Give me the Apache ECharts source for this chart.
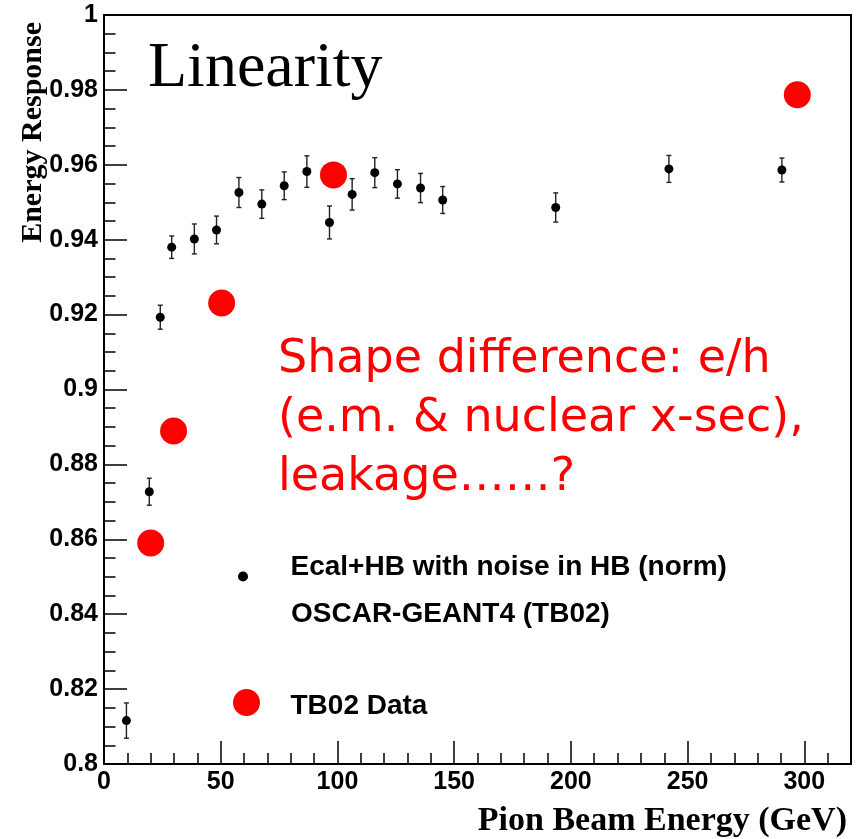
<!DOCTYPE html>
<html>
<head>
<meta charset="utf-8">
<script src="https://cdn.jsdelivr.net/npm/echarts@6/dist/echarts.min.js"></script>
<style>
  html, body { margin: 0; padding: 0; background: #fff; }
  #chart { width: 859px; height: 839px; }
</style>
</head>
<body>
<div id="chart"></div>
<script>
// Simulation: Ecal+HB with noise in HB (norm), OSCAR-GEANT4 (TB02)
const simEnergy = [9.6, 19.4, 24.1, 29.0, 38.7, 48.2, 57.8, 67.6, 77.2, 86.9, 96.6, 106.3, 116.0, 125.7, 135.6, 145.1, 193.5, 242.0, 290.4];
const simResponse = [0.8116, 0.8727, 0.9193, 0.9380, 0.9402, 0.9426, 0.9526, 0.9495, 0.9544, 0.9582, 0.9446, 0.9521, 0.9579, 0.9549, 0.9538, 0.9506, 0.9486, 0.9589, 0.9586];
const simError = [0.0047, 0.0036, 0.0032, 0.0030, 0.0040, 0.0037, 0.0040, 0.0038, 0.0037, 0.0042, 0.0044, 0.0042, 0.0040, 0.0038, 0.0039, 0.0036, 0.0039, 0.0036, 0.0032];
// TB02 test-beam data
const dataEnergy = [20.0, 29.8, 50.4, 98.3, 297.0];
const dataResponse = [0.8590, 0.8889, 0.9231, 0.9573, 0.9787];

const simName = 'Ecal+HB with noise in HB (norm)';
const simName2 = 'OSCAR-GEANT4 (TB02)';
const dataName = 'TB02 Data';
const plotTitle = 'Linearity';
const noteText = 'Shape difference: e/h\n(e.m. & nuclear x-sec),\nleakage……?';
const xTitle = 'Pion Beam Energy (GeV)';
const yTitle = 'Energy Response';

const sans = '"Liberation Sans", Arial, Helvetica, sans-serif';
const serif = '"Liberation Serif", "Times New Roman", serif';

const chart = echarts.init(document.getElementById('chart'), null, { renderer: 'canvas' });

const tickLabel = { color: '#000', fontFamily: sans, fontWeight: 'bold', fontSize: 25 };
const legendRich = {
  a: { fontFamily: sans, fontWeight: 'bold', fontSize: 28, lineHeight: 30, color: '#000' },
  s1: { fontSize: 1, lineHeight: 19 },
  s2: { fontSize: 1, lineHeight: 8 }
};

const option = {
  animation: false,
  backgroundColor: '#fff',
  grid: { left: 104, right: 8, top: 15, bottom: 75, show: true, borderColor: '#000', borderWidth: 2, backgroundColor: 'transparent', outerBoundsMode: 'none', containLabel: false },
  xAxis: [
    {
      type: 'value', min: 0, max: 320, interval: 50,
      axisLine: { show: true, onZero: false, lineStyle: { color: '#000', width: 2 } },
      axisTick: { show: true, inside: true, length: 23, lineStyle: { color: '#000', width: 1.5 } },
      axisLabel: Object.assign({ margin: 6, showMaxLabel: false, formatter: v => (v % 50 === 0 ? String(v) : '') }, tickLabel),
      splitLine: { show: false },
      name: xTitle, nameLocation: 'end', nameGap: -4, nameMoveOverlap: false,
      nameTextStyle: { fontFamily: serif, fontWeight: 'bold', fontSize: 34, color: '#000', align: 'right', verticalAlign: 'top', padding: [40, 0, 0, 0] }
    },
    {
      type: 'value', min: 0, max: 320, interval: 10, position: 'bottom',
      axisLine: { show: false },
      axisTick: { show: true, inside: true, length: 11, lineStyle: { color: '#000', width: 1.5 } },
      axisLabel: { show: false },
      splitLine: { show: false }
    }
  ],
  yAxis: {
    type: 'value', min: 0.8, max: 1, interval: 0.02,
    axisLine: { show: true, onZero: false, lineStyle: { color: '#000', width: 2 } },
    axisTick: { show: true, inside: true, length: 23, lineStyle: { color: '#000', width: 1.5 } },
    minorTick: { show: true, splitNumber: 4, length: 11.5, lineStyle: { color: '#000', width: 1.5 } },
    axisLabel: Object.assign({ margin: 6 }, tickLabel),
    splitLine: { show: false },
    name: yTitle, nameLocation: 'end', nameRotate: 90, nameGap: -7, nameMoveOverlap: false,
    nameTextStyle: { fontFamily: serif, fontWeight: 'bold', fontSize: 30, color: '#000', align: 'right', verticalAlign: 'bottom', padding: [0, 0, 56, 0] }
  },
  legend: [
    {
      data: [simName], orient: 'vertical', left: 238, top: 553, padding: 0,
      itemWidth: 85, itemHeight: 10, selectedMode: false,
      formatter: n => '{a|' + n + '}\n{s1| }',
      textStyle: { rich: legendRich }
    },
    {
      data: [dataName], orient: 'vertical', left: 233, top: 687, padding: 0,
      itemWidth: 78, itemHeight: 27, selectedMode: false,
      formatter: n => '{s2| }\n{a|' + n + '}',
      textStyle: { rich: legendRich }
    }
  ],
  series: [
    {
      type: 'custom', name: 'errors', xAxisIndex: 0, yAxisIndex: 0,
      data: simEnergy.map((e, i) => [e, simResponse[i], simError[i]]),
      encode: { x: 0, y: 1 },
      renderItem: function (params, api) {
        const x = api.value(0), y = api.value(1), err = api.value(2);
        const top = api.coord([x, y + err]);
        const bot = api.coord([x, y - err]);
        const cw = 2.5;
        const st = { stroke: '#222', lineWidth: 1.4 };
        return {
          type: 'group',
          children: [
            { type: 'line', shape: { x1: top[0], y1: top[1], x2: bot[0], y2: bot[1] }, style: st },
            { type: 'line', shape: { x1: top[0] - cw, y1: top[1], x2: top[0] + cw, y2: top[1] }, style: st },
            { type: 'line', shape: { x1: bot[0] - cw, y1: bot[1], x2: bot[0] + cw, y2: bot[1] }, style: st }
          ]
        };
      },
      silent: true, z: 2
    },
    {
      type: 'scatter', name: simName, xAxisIndex: 0,
      data: simEnergy.map((e, i) => [e, simResponse[i]]),
      symbol: 'circle', symbolSize: 9,
      itemStyle: { color: '#000', opacity: 1 }, z: 3
    },
    {
      type: 'scatter', name: dataName, xAxisIndex: 0,
      data: dataEnergy.map((e, i) => [e, dataResponse[i]]),
      symbol: 'circle', symbolSize: 27,
      itemStyle: { color: '#ff0000', opacity: 1 }, z: 4
    }
  ],
  graphic: [
    {
      type: 'text', x: 148, y: 69, z: 10,
      style: { text: plotTitle, fontFamily: serif, fontSize: 64, fill: '#000', verticalAlign: 'middle', align: 'left' }
    },
    {
      type: 'text', x: 278, y: 331, z: 10,
      style: { text: noteText, fontFamily: '"Comic Sans MS", "DejaVu Sans", sans-serif', fontSize: 46, lineHeight: 59, fill: '#ff0000', verticalAlign: 'top', align: 'left' }
    },
    {
      type: 'text', x: 291, y: 614, z: 10,
      style: { text: simName2, fontFamily: sans, fontWeight: 'bold', fontSize: 28, fill: '#000', verticalAlign: 'middle', align: 'left' }
    }
  ]
};

chart.setOption(option);
</script>
</body>
</html>
